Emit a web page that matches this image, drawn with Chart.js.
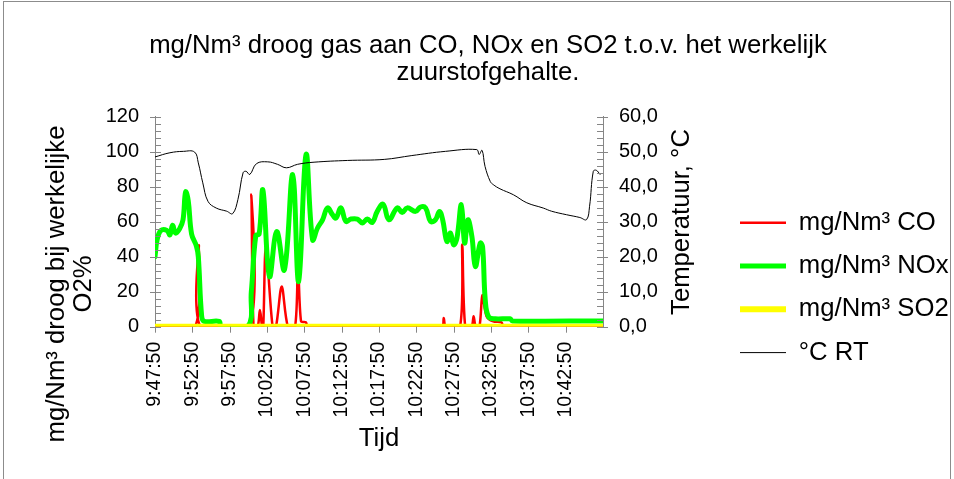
<!DOCTYPE html>
<html>
<head>
<meta charset="utf-8">
<script src="https://cdn.jsdelivr.net/npm/chart.js@4.4.1/dist/chart.umd.min.js"></script>
<style>
  html, body { margin: 0; padding: 0; background: #fff; overflow: hidden; }
  #frame { position: absolute; left: 3px; top: 1px; width: 948px; height: 520px; box-sizing: border-box; border: 1px solid #8c8c8c; }
  #wrap { position: absolute; left: 0; top: 0; width: 954px; height: 479px; }
</style>
</head>
<body>
<div id="frame"></div>
<div id="wrap"><canvas id="chart" width="954" height="479"></canvas></div>
<script>
const FONT = "'Liberation Sans', Arial, sans-serif";
const BIG = 25.7;

// x positions are minutes after 9:47:50
const tickLabels = ['9:47:50', '9:52:50', '9:57:50', '10:02:50', '10:07:50', '10:12:50',
                    '10:17:50', '10:22:50', '10:27:50', '10:32:50', '10:37:50', '10:42:50'];

const coTime  = [0, 5.35, 5.87, 6.1, 12.65, 12.9, 13.2, 13.75, 14.05, 14.35, 14.5, 14.85, 15.75, 16.2, 16.97,
                 17.8, 18.76, 19.15, 19.56, 20.2, 20.5, 38.4, 38.67, 38.95, 40.85, 41.15, 41.55, 42.4, 42.67,
                 42.95, 43.45, 43.85, 44.4, 45.3, 46.4, 46.7, 60];
const coValue = [0, 0, 46.5, 0, 0, 75.5, 0, 0, 9.5, 0, 0, 46, 0, 0, 23,
                 0, 0, 35, 3, 2.5, 0, 0, 5, 0, 0, 47, 0, 0, 6,
                 0, 0, 18, 6, 3, 2.5, 0, 0];

const noxTime  = [0, 0.3, 0.8, 1.6, 2.0, 2.35, 2.75, 3.3, 3.75, 4.1, 4.45, 4.9, 5.55, 5.8, 6.25, 6.6, 8.6, 8.85,
                  12.4, 12.9, 13.5, 13.95, 14.45, 15.33, 16.3, 17.33, 18.44, 19.24, 20.23, 21.1, 21.77, 22.44,
                  23.1, 23.77, 24.23, 24.9, 25.56, 26.23, 27.1, 27.77, 28.44, 29.1, 29.77, 30.55, 31.33, 32.44,
                  33.1, 33.77, 34.9, 35.56, 36.23, 36.9, 37.56, 38.1, 38.53, 39.1, 39.56, 40.0, 40.44, 41.03,
                  41.47, 41.9, 42.44, 42.9, 43.56, 43.87, 44.23, 44.67, 45.56, 47.56, 47.87, 60];
const noxValue = [40, 50, 55, 55, 52.5, 58, 53.5, 56, 61, 77, 72, 53, 46, 40, 6, 3, 3, 0,
                  0, 20, 52, 53, 78, 28.7, 54.4, 32.5, 86.9, 25.8, 98.4, 49.7, 56.4, 61.1,
                  67.9, 64.0, 62.1, 67.9, 60.2, 61.5, 61.5, 59.3, 61.5, 59.6, 65.9, 70, 61.1, 67.9,
                  65.3, 67.9, 65.9, 68.4, 67.9, 60.2, 61.1, 65.9, 61.1, 48.7, 53.5, 46.8, 50.7, 69.7,
                  47.8, 61.1, 51.6, 34.4, 47.8, 45.8, 15.3, 5.7, 4.5, 4.5, 3.3, 3.3];

const so2Time  = [0, 60];
const so2Value = [0, 0];

const rtTime  = [0, 2.0, 3.8, 5.3, 5.8, 6.4, 7.1, 8.2, 9.6, 10.4, 11.1, 11.8, 12.2, 12.7, 13.6, 15.1, 16.4,
                 17.6, 19.1, 21.3, 25.8, 30.7, 34.4, 38.9, 43.1, 43.4, 43.8, 44.2, 44.9, 45.3, 46.2, 48.0,
                 49.8, 52.0, 53.1, 55.1, 56.9, 57.8, 58.2, 58.7, 59.1, 59.6];
const rtValue = [48.5, 49.7, 50.1, 49.9, 46.8, 41.1, 35.8, 33.9, 33.0, 32.3, 36.3, 44.0, 44.4, 43.5, 46.6, 47.1, 46.4,
                 45.4, 46.4, 47.0, 47.5, 47.8, 48.9, 50.1, 50.6, 49.2, 50.4, 45.8, 41.5, 40.6, 39.4, 37.7,
                 35.4, 33.9, 33.0, 32.0, 31.2, 30.6, 34.4, 44.4, 44.7, 43.5];

const pts = (t, v) => t.map((x, i) => ({ x: x, y: v[i] }));

const PAD_LEFT = 31.5, PAD_RIGHT = 9.5;
const AREA_LEFT = 155, AREA_RIGHT = 603, AREA_BOTTOM = 326.7;
const LEGEND_LEFT = 722.4;
const AXIS_GREY = '#868686';

// small tick marks like the spreadsheet axes (major crossing, minor inside)
const axisTicks = {
  id: 'axisTicks',
  afterDatasetsDraw(chart) {
    const { ctx, chartArea: a, scales } = chart;
    ctx.save();
    ctx.strokeStyle = AXIS_GREY;
    ctx.lineWidth = 1;
    ctx.beginPath();
    for (let v = 0; v <= 120; v += 4) {
      const py = Math.round(scales.y.getPixelForValue(v)) + 0.5;
      ctx.moveTo(a.left - (v % 20 === 0 ? 5 : 0), py);
      ctx.lineTo(a.left + 6, py);
    }
    for (let v = 0; v <= 60; v += 2) {
      const py = Math.round(scales.y1.getPixelForValue(v)) + 0.5;
      ctx.moveTo(a.right + (v % 10 === 0 ? 5 : 0), py);
      ctx.lineTo(a.right - 6, py);
    }
    for (let v = 0; v < 60; v += 5) {
      const px = Math.round(scales.x.getPixelForValue(v)) + 0.5;
      ctx.moveTo(px, a.bottom);
      ctx.lineTo(px, a.bottom + 6);
    }
    ctx.stroke();
    ctx.restore();
  }
};

// axis titles that read bottom to top
const sideTitles = {
  id: 'sideTitles',
  afterDraw(chart) {
    const ctx = chart.ctx;
    const put = (text, x, y) => {
      ctx.save();
      ctx.translate(x, y);
      ctx.rotate(-Math.PI / 2);
      ctx.fillText(text, 0, 0);
      ctx.restore();
    };
    ctx.save();
    ctx.font = BIG + 'px ' + FONT;
    ctx.fillStyle = '#000';
    ctx.textAlign = 'center';
    ctx.textBaseline = 'middle';
    put('mg/Nm³ droog bij werkelijke', 57, 284);
    put('O2%', 84, 284);
    put('Temperatuur, °C', 682, 222);
    ctx.restore();
  }
};

// the legend box is capped in width by the layout, so move and widen it
const legendPlace = {
  id: 'legendPlace',
  afterLayout(chart) {
    const lg = chart.legend;
    lg.left = LEGEND_LEFT;
    lg.right = chart.width;
    lg.width = lg.right - lg.left;
  }
};

const chart = new Chart(document.getElementById('chart'), {
  type: 'line',
  data: {
    datasets: [
      { label: 'mg/Nm³ CO', data: pts(coTime, coValue), yAxisID: 'y', borderColor: '#ff0000',
        backgroundColor: '#ff0000', borderWidth: 2.5, tension: 0.3, order: 2 },
      { label: 'mg/Nm³ NOx', data: pts(noxTime, noxValue), yAxisID: 'y', borderColor: '#00ff00',
        backgroundColor: '#00ff00', borderWidth: 5, tension: 0.4, order: 1 },
      { label: 'mg/Nm³ SO2', data: pts(so2Time, so2Value), yAxisID: 'y', borderColor: '#ffff00',
        backgroundColor: '#ffff00', borderWidth: 6, tension: 0, order: 0 },
      { label: '°C RT', data: pts(rtTime, rtValue), yAxisID: 'y1', borderColor: '#000000',
        backgroundColor: '#000000', borderWidth: 1, tension: 0.4, order: 0 }
    ]
  },
  options: {
    responsive: false,
    animation: false,
    devicePixelRatio: 1,
    events: [],
    elements: {
      point: { radius: 0 },
      line: { borderCapStyle: 'round', borderJoinStyle: 'round' }
    },
    layout: { padding: { left: PAD_LEFT, right: PAD_RIGHT, top: 0, bottom: 0 } },
    plugins: {
      title: {
        display: true,
        text: ['mg/Nm³ droog gas aan CO, NOx en SO2 t.o.v. het werkelijk', 'zuurstofgehalte.'],
        color: '#000',
        font: { family: FONT, size: BIG, weight: 'normal', lineHeight: 27 / BIG },
        padding: { top: 32.5, bottom: 30.2 }
      },
      legend: {
        position: 'right',
        align: 'start',
        title: { display: true, text: ' ', font: { size: 10 }, padding: { top: 180.25, bottom: 0 } },
        labels: {
          color: '#000',
          font: { family: FONT, size: BIG },
          usePointStyle: true,
          pointStyle: 'line',
          pointStyleWidth: 46,
          padding: 17.6,
          sort: (a, b) => a.datasetIndex - b.datasetIndex
        }
      },
      tooltip: { enabled: false }
    },
    scales: {
      x: {
        type: 'linear',
        min: 0,
        max: 60,
        grid: { display: false, drawTicks: false },
        border: { display: true, color: AXIS_GREY },
        ticks: {
          stepSize: 5,
          autoSkip: false,
          minRotation: 90,
          maxRotation: 90,
          padding: 15,
          color: '#000',
          font: { family: FONT, size: 19.5 },
          callback: v => (v % 5 === 0 && v / 5 < tickLabels.length) ? tickLabels[v / 5] : ''
        },
        title: {
          display: true,
          text: 'Tijd',
          color: '#000',
          font: { family: FONT, size: BIG },
          padding: { top: 0, bottom: 24.6 }
        },
        afterFit: s => { s.height = 479 - AREA_BOTTOM; }
      },
      y: {
        position: 'left',
        min: 0,
        max: 120,
        grid: { display: false, drawTicks: false },
        border: { display: true, color: AXIS_GREY },
        ticks: { stepSize: 20, padding: 16, color: '#000', font: { family: FONT, size: 20 } },
        afterFit: s => { s.width = AREA_LEFT - PAD_LEFT; }
      },
      y1: {
        position: 'right',
        min: 0,
        max: 60,
        grid: { display: false, drawTicks: false },
        border: { display: true, color: AXIS_GREY },
        ticks: {
          stepSize: 10,
          padding: 16,
          color: '#000',
          font: { family: FONT, size: 20 },
          callback: v => v.toFixed(1).replace('.', ',')
        },
        afterFit: s => { s.width = 954 - PAD_RIGHT - s.chart.legend.width - AREA_RIGHT; }
      }
    }
  },
  plugins: [axisTicks, sideTitles, legendPlace]
});
</script>
</body>
</html>
